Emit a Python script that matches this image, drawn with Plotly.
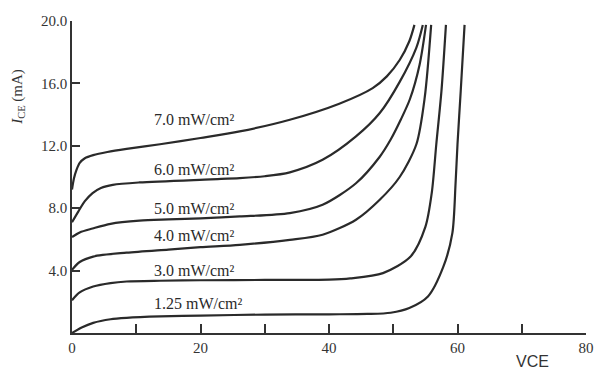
import plotly.graph_objects as go

# Irradiance curves: VCE (x) vs ICE in mA (y)
x_125 = [0, 1.5, 3.3, 6, 8.5, 13.7, 20, 30, 40, 46, 49.6, 52.5, 55.4, 57.8, 59.2, 59.7, 60.0, 60.5, 61.1]
y_125 = [0, 0.35, 0.65, 0.88, 0.97, 1.06, 1.12, 1.18, 1.2, 1.22, 1.3, 1.6, 2.34, 4.25, 6.4, 9.6, 12.1, 15.5, 19.75]

x_30 = [0, 1.2, 3.3, 6, 8.5, 13.7, 20, 30, 40, 43.3, 48.4, 52.7, 55.0, 56.0, 56.7, 57.5, 58.2]
y_30 = [2.1, 2.6, 2.98, 3.2, 3.3, 3.35, 3.38, 3.4, 3.42, 3.5, 3.84, 4.9, 6.8, 9.0, 12.1, 15.5, 19.75]

x_40 = [0, 1.2, 3.3, 8.5, 15, 20, 26.1, 33.9, 39.0, 44.2, 47.9, 51.0, 53.6, 54.9, 55.9]
y_40 = [4.05, 4.55, 4.9, 5.15, 5.35, 5.5, 5.65, 5.97, 6.3, 7.26, 8.54, 10.0, 12.1, 15.1, 19.75]

x_50 = [0, 1.2, 3.2, 6, 10.5, 15, 20, 26.1, 33.9, 39.0, 44.2, 47.9, 49.6, 51.2, 52.6, 54.1, 55.1]
y_50 = [6.15, 6.45, 6.7, 7.0, 7.2, 7.28, 7.35, 7.47, 7.69, 8.22, 9.6, 11.3, 12.4, 13.7, 15.0, 17.2, 19.75]

x_60 = [0, 1, 2, 3.2, 4.5, 6.35, 10.5, 21.6, 26.1, 30, 33.9, 39.0, 44.2, 47.9, 51.0, 53.6, 54.6]
y_60 = [7.1, 7.8, 8.45, 8.97, 9.3, 9.5, 9.65, 9.85, 9.93, 10.05, 10.3, 11.1, 12.6, 14.1, 16.1, 18.3, 19.75]

x_70 = [0, 0.3, 0.7, 1.2, 2, 3.3, 5.5, 8.5, 13.7, 20, 26.1, 33.9, 41.6, 46.8, 49.0, 51.0, 52.5, 53.3]
y_70 = [9.2, 9.9, 10.45, 10.9, 11.2, 11.4, 11.6, 11.8, 12.1, 12.5, 12.92, 13.67, 14.7, 15.7, 16.45, 17.5, 18.7, 19.75]

series_x = [x_125, x_30, x_40, x_50, x_60, x_70]
series_y = [y_125, y_30, y_40, y_50, y_60, y_70]

labels = ["1.25 mW/cm²", "3.0 mW/cm²", "4.0 mW/cm²", "5.0 mW/cm²", "6.0 mW/cm²", "7.0 mW/cm²"]
label_x = [12.5, 12.5, 12.5, 12.5, 12.5, 12.5]
label_y = [1.87, 4.0, 6.23, 7.96, 10.5, 13.7]

x_tickvals = [0, 20, 40, 60, 80]
x_ticktext = ["0", "20", "40", "60", "80"]
x_minorvals = [10, 30, 50, 70]
y_tickvals = [4, 8, 12, 16, 20]
y_ticktext = ["4.0", "8.0", "12.0", "16.0", "20.0"]

serif = "Liberation Serif, Times New Roman, serif"
ink = "#2a2a2a"

fig = go.Figure()
for xs, ys in zip(series_x, series_y):
    fig.add_trace(go.Scatter(x=xs, y=ys, mode="lines",
                             line=dict(color=ink, width=2.2, shape="spline", smoothing=0.8),
                             hoverinfo="skip", showlegend=False))

for t, lx, ly in zip(labels, label_x, label_y):
    fig.add_annotation(x=lx, y=ly, text=t, showarrow=False, xanchor="left", yanchor="middle",
                       font=dict(family=serif, size=16, color=ink))

fig.add_annotation(x=71.7, y=-0.09, xref="x", yref="paper", text="VCE", showarrow=False,
                   xanchor="center", yanchor="middle",
                   font=dict(family="Liberation Sans, Arial, sans-serif", size=16, color="#333"))

fig.add_annotation(x=-0.105, y=0.757, xref="paper", yref="paper",
                   text="<i>I</i><sub>CE</sub> (mA)", showarrow=False, textangle=-90,
                   xanchor="center", yanchor="middle",
                   font=dict(family=serif, size=15, color="#333"))

fig.update_xaxes(range=[0, 80], tickvals=x_tickvals, ticktext=x_ticktext, automargin=False,
                 ticks="inside", ticklen=9, tickwidth=1.5, tickcolor="#333",
                 minor=dict(tickvals=x_minorvals, ticks="inside", ticklen=9, tickwidth=1.5,
                            tickcolor="#333", showgrid=False),
                 showline=True, linecolor="#333", linewidth=1.5, showgrid=False, zeroline=False,
                 tickfont=dict(family=serif, size=15, color="#333"))
fig.update_yaxes(range=[0, 20], tickvals=y_tickvals, ticktext=y_ticktext, automargin=False,
                 ticks="inside", ticklen=8, tickwidth=1.5, tickcolor="#333",
                 showline=True, linecolor="#333", linewidth=1.5, showgrid=False, zeroline=False,
                 tickfont=dict(family=serif, size=15, color="#333"))

# page body has an 8px margin, so the figure is offset by 8px; margins compensate
fig.update_layout(width=590, height=367, margin=dict(l=64, r=12, t=13, b=42, autoexpand=False),
                  plot_bgcolor="white", paper_bgcolor="white")

fig.write_html("out.html")
